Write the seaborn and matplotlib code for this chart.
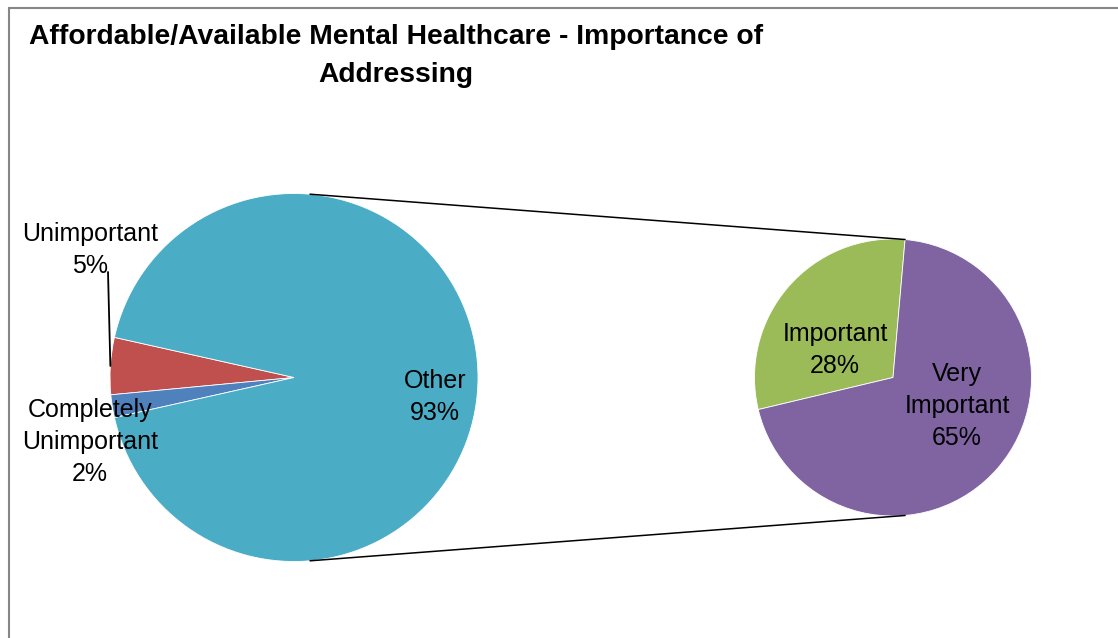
import numpy as np
import matplotlib
matplotlib.use("Agg")
import matplotlib.pyplot as plt
import seaborn as sns
from matplotlib.patches import Rectangle

# ---- data ----
main_labels = ["Unimportant", "Completely\nUnimportant", "Other"]
main_values = [5, 2, 93]
sub_labels = ["Important", "Very\nImportant"]
sub_values = [28, 65]
title = "Affordable/Available Mental Healthcare - Importance of\nAddressing"

main_colors = ["#C0504D", "#4F81BD", "#4BACC6"]
sub_colors = ["#9BBB59", "#8064A2"]

sns.set_theme(style="white")
plt.rcParams['font.family'] = ['Liberation Sans', 'DejaVu Sans']
plt.rcParams['text.color'] = 'black'

W, H = 1118, 638
fig = plt.figure(figsize=(W / 100, H / 100), dpi=100)
ax = fig.add_axes([0, 0, 1, 1])

def sy(y):  # screen y -> data y
    return H - y

c1 = (294, sy(377.5)); r1 = 184
c2 = (893, sy(377.5)); r2 = 138.5

# main pie: "Other" centered at 0 degrees
other_frac = main_values[2] / sum(main_values)
start1 = 180 - (1 - other_frac) * 360 / 2
ax.pie(main_values, colors=main_colors, startangle=start1, counterclock=True,
       center=c1, radius=r1, wedgeprops=dict(edgecolor="white", linewidth=0.6))

start2 = 85
ax.pie(sub_values, colors=sub_colors, startangle=start2, counterclock=True,
       center=c2, radius=r2, wedgeprops=dict(edgecolor="white", linewidth=0.6))

# connector lines
for a in (85, -85):
    t = np.deg2rad(a)
    p1 = (c1[0] + r1 * np.cos(t), c1[1] + r1 * np.sin(t))
    p2 = (c2[0] + r2 * np.cos(t), c2[1] + r2 * np.sin(t))
    ax.plot([p1[0], p2[0]], [p1[1], p2[1]], color="black", lw=1.1)

fs = 18
tk = dict(ha="center", va="center", fontsize=fs, color="black", linespacing=1.42)
ax.text(435, sy(397), f"Other\n{main_values[2]}%", **tk)
ax.text(90, sy(250), f"{main_labels[0]}\n{main_values[0]}%", **tk)
ax.text(90, sy(442), f"{main_labels[1]}\n{main_values[1]}%", **tk)
ax.text(835, sy(350), f"{sub_labels[0]}\n{sub_values[0]}%", **tk)
ax.text(957, sy(406), f"{sub_labels[1]}\n{sub_values[1]}%", **tk)

# leader line for Unimportant
mid = np.deg2rad(start1 + main_values[0] / sum(main_values) * 360 / 2)
edge = (c1[0] + r1 * np.cos(mid), c1[1] + r1 * np.sin(mid))
ax.plot([108, edge[0]], [sy(272), edge[1]], color="black", lw=1.3)

ax.set_xlim(0, W)
ax.set_ylim(0, H)
ax.set_aspect("equal")
ax.axis("off")

# chart frame
fig.patches.append(Rectangle((9 / W, -0.1), 1.2, (H - 8) / H + 0.1, transform=fig.transFigure,
                             fill=False, edgecolor="#868686", linewidth=1.5))

fig.text(396 / W, 1 - 56 / H, title, ha="center", va="center", fontsize=20.3,
         fontweight="bold", linespacing=1.55, color="black")

fig.savefig("out.png", dpi=100, facecolor="white")
